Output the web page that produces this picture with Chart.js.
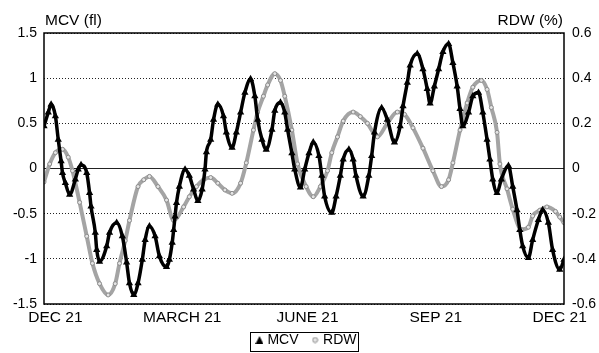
<!DOCTYPE html>
<html>
<head>
<meta charset="utf-8">
<script src="https://cdn.jsdelivr.net/npm/chart.js@4.4.0/dist/chart.umd.min.js"></script>
<style>
html, body { margin: 0; padding: 0; background: #fff; }
</style>
</head>
<body>
<canvas id="myChart" width="599" height="353"></canvas>
<script>
// values, x = day of the year shown
const mcvDays = [0, 3, 5, 8, 10, 12, 13, 15, 18, 22, 24, 26, 30, 32, 33, 36, 37, 39, 44, 46, 51, 55, 58, 60, 63, 66, 69, 71, 74, 78, 81, 86, 88, 90, 91, 92, 93, 95, 99, 102, 105, 108, 111, 113, 114, 117, 119, 122, 126, 128, 132, 135, 138, 141, 145, 148, 150, 153, 156, 160, 162, 166, 169, 171, 174, 176, 180, 183, 186, 189, 193, 195, 197, 202, 205, 208, 210, 214, 217, 219, 224, 228, 230, 232, 237, 241, 246, 250, 252, 255, 257, 262, 266, 269, 271, 274, 277, 280, 284, 287, 290, 292, 294, 298, 301, 305, 308, 311, 313, 315, 318, 321, 326, 329, 332, 334, 336, 340, 343, 347, 350, 354, 357, 362, 365];
const mcvValues = [0.47, 0.62, 0.71, 0.58, 0.32, 0.08, -0.05, -0.16, -0.29, -0.12, -0.01, 0.04, -0.05, -0.27, -0.42, -0.71, -0.9, -1.03, -0.86, -0.71, -0.6, -0.75, -1.04, -1.27, -1.40, -1.27, -1.01, -0.79, -0.64, -0.75, -0.97, -1.09, -1.01, -0.82, -0.68, -0.53, -0.38, -0.2, -0.01, -0.08, -0.23, -0.36, -0.23, -0.01, 0.18, 0.32, 0.54, 0.71, 0.58, 0.4, 0.23, 0.4, 0.62, 0.84, 0.99, 0.80, 0.54, 0.32, 0.21, 0.43, 0.64, 0.73, 0.62, 0.43, 0.17, -0.01, -0.21, -0.01, 0.17, 0.29, 0.14, -0.08, -0.31, -0.49, -0.31, -0.08, 0.1, 0.21, 0.1, -0.08, -0.31, -0.08, 0.14, 0.4, 0.67, 0.54, 0.29, 0.47, 0.69, 0.95, 1.14, 1.27, 1.10, 0.88, 0.72, 0.91, 1.1, 1.29, 1.38, 1.17, 0.91, 0.66, 0.47, 0.62, 0.8, 0.84, 0.62, 0.32, 0.1, -0.12, -0.27, -0.12, 0.03, -0.2, -0.46, -0.68, -0.86, -0.99, -0.79, -0.57, -0.46, -0.6, -0.9, -1.12, -1.01];
const rdwDays = [0, 4, 8, 13, 17, 20, 25, 30, 34, 39, 45, 50, 53, 57, 60, 66, 70, 74, 80, 86, 91, 98, 102, 107, 112, 117, 122, 127, 132, 138, 142, 147, 150, 154, 157, 162, 166, 169, 174, 178, 184, 189, 194, 199, 202, 206, 210, 217, 222, 227, 234, 241, 248, 253, 259, 266, 273, 279, 284, 287, 292, 297, 301, 307, 311, 314, 318, 320, 325, 329, 335, 340, 343, 348, 353, 359, 362, 365];
const rdwValues = [-0.06, 0.02, 0.07, 0.085, 0.05, -0.01, -0.15, -0.30, -0.42, -0.51, -0.56, -0.51, -0.42, -0.32, -0.23, -0.08, -0.05, -0.035, -0.08, -0.14, -0.23, -0.17, -0.125, -0.08, -0.05, -0.04, -0.065, -0.095, -0.11, -0.065, 0.025, 0.17, 0.25, 0.32, 0.37, 0.42, 0.39, 0.32, 0.17, 0.02, -0.08, -0.125, -0.08, -0.01, 0.07, 0.14, 0.21, 0.25, 0.23, 0.20, 0.14, 0.20, 0.25, 0.24, 0.18, 0.09, -0.01, -0.08, -0.05, 0.025, 0.17, 0.29, 0.36, 0.39, 0.35, 0.27, 0.16, 0.02, -0.09, -0.18, -0.27, -0.26, -0.21, -0.185, -0.17, -0.19, -0.215, -0.24];
const monthLabels = ['DEC 21', 'MARCH 21', 'JUNE 21', 'SEP 21', 'DEC 21'];
const monthDays = [8, 97, 185, 275, 362];

const font = 'Liberation Sans, Arial, sans-serif';

// small marker images for the legend
function marker(w, h, draw) {
    const c = document.createElement('canvas');
    c.width = w;
    c.height = h;
    draw(c.getContext('2d'));
    return c;
}
const triMark = marker(8, 8, g => {
    g.fillStyle = '#000';
    g.beginPath();
    g.moveTo(4, 0); g.lineTo(8, 8); g.lineTo(0, 8);
    g.closePath();
    g.fill();
});
const dotMark = marker(7, 7, g => {
    g.fillStyle = '#e4e4e4';
    g.strokeStyle = '#8c8c8c';
    g.beginPath();
    g.arc(3.5, 3.5, 2.5, 0, Math.PI * 2);
    g.fill();
    g.stroke();
});

// solid frame round the plot + the two axis titles on top
const framePlugin = {
    id: 'frame',
    afterLayout(chart) {
        // nudge the legend right and down, like the original
        const lg = chart.legend;
        lg.left += 8;
        lg.right += 8;
        lg.top += 4;
        lg.bottom += 4;
    },
    afterDraw(chart) {
        const ctx = chart.ctx;
        const a = chart.chartArea;
        ctx.save();
        ctx.strokeStyle = '#000';
        ctx.lineWidth = 1.5;
        ctx.strokeRect(a.left, a.top, a.right - a.left, a.bottom - a.top);
        ctx.fillStyle = '#000';
        ctx.font = '15.5px ' + font;
        ctx.textBaseline = 'middle';
        ctx.textAlign = 'left';
        ctx.fillText('MCV (fl)', a.left + 1, a.top - 12);
        ctx.textAlign = 'right';
        ctx.fillText('RDW (%)', a.right - 1, a.top - 12);
        // box round the legend
        const boxes = chart.legend.legendHitBoxes;
        if (boxes && boxes.length) {
            const first = boxes[0], last = boxes[boxes.length - 1];
            const x0 = Math.round(first.left - 8), x1 = Math.round(last.left + last.width + 1);
            const y0 = Math.round(first.top);
            ctx.lineWidth = 1;
            ctx.strokeRect(x0 + 0.5, y0 - 0.5, x1 - x0, 352 - y0);
        }
        ctx.restore();
    }
};

const fmt = v => (Math.abs(v) < 1e-9 ? '0' : String(Math.round(v * 10) / 10));

const ctx = document.getElementById('myChart').getContext('2d');
const myChart = new Chart(ctx, {
    type: 'line',
    data: {
        datasets: [{
            label: 'MCV',
            data: mcvDays.map((d, i) => ({ x: d, y: mcvValues[i] })),
            yAxisID: 'y',
            borderColor: '#000',
            backgroundColor: '#000',
            borderWidth: 3.5,
            pointStyle: 'triangle',
            pointRadius: 4.2,
            pointBorderWidth: 0,
            pointBackgroundColor: '#000',
            cubicInterpolationMode: 'monotone'
        }, {
            label: 'RDW',
            data: rdwDays.map((d, i) => ({ x: d, y: rdwValues[i] })),
            yAxisID: 'y1',
            borderColor: '#a4a4a4',
            backgroundColor: '#dcdcdc',
            borderWidth: 4,
            pointStyle: 'circle',
            pointRadius: 2,
            pointBorderWidth: 1,
            pointBorderColor: '#8c8c8c',
            pointBackgroundColor: '#e4e4e4',
            cubicInterpolationMode: 'monotone'
        }]
    },
    options: {
        responsive: false,
        animation: false,
        layout: { padding: { top: 33, bottom: 0, left: 0, right: 0 } },
        scales: {
            x: {
                type: 'linear',
                min: 0,
                max: 365,
                grid: { display: false, drawTicks: false },
                border: { display: false },
                afterBuildTicks: axis => { axis.ticks = monthDays.map(v => ({ value: v })); },
                afterFit: s => { s.height = 25; },
                ticks: {
                    autoSkip: false,
                    maxRotation: 0,
                    padding: 4,
                    color: '#000',
                    font: { family: font, size: 15.5 },
                    callback: (v, i) => monthLabels[i]
                }
            },
            y: {
                position: 'left',
                min: -1.5,
                max: 1.5,
                afterFit: s => { s.width = 44; },
                grid: { color: '#222', lineWidth: 1, drawTicks: false },
                border: {
                    display: false,
                    dash: c => (c.tick && c.tick.value === 0 ? [] : [1, 2])
                },
                ticks: {
                    stepSize: 0.5,
                    padding: 7,
                    color: '#000',
                    font: { family: font, size: 14 },
                    callback: fmt
                }
            },
            y1: {
                position: 'right',
                min: -0.6,
                max: 0.6,
                afterFit: s => { s.width = 35; },
                grid: { drawOnChartArea: false, drawTicks: false },
                border: { display: false },
                ticks: {
                    stepSize: 0.2,
                    padding: 8,
                    color: '#000',
                    font: { family: font, size: 14 },
                    callback: fmt
                }
            }
        },
        plugins: {
            legend: {
                position: 'bottom',
                labels: {
                    usePointStyle: true,
                    boxWidth: 2,
                    boxHeight: 8,
                    padding: 0,
                    color: '#000',
                    font: { family: font, size: 14 },
                    generateLabels: chart => Chart.defaults.plugins.legend.labels.generateLabels(chart).map((l, i) => (
                        i === 0 ? { ...l, text: l.text + '    ', pointStyle: triMark } : { ...l, pointStyle: dotMark }
                    ))
                }
            },
            tooltip: { enabled: false }
        }
    },
    plugins: [framePlugin]
});
</script>
</body>
</html>
